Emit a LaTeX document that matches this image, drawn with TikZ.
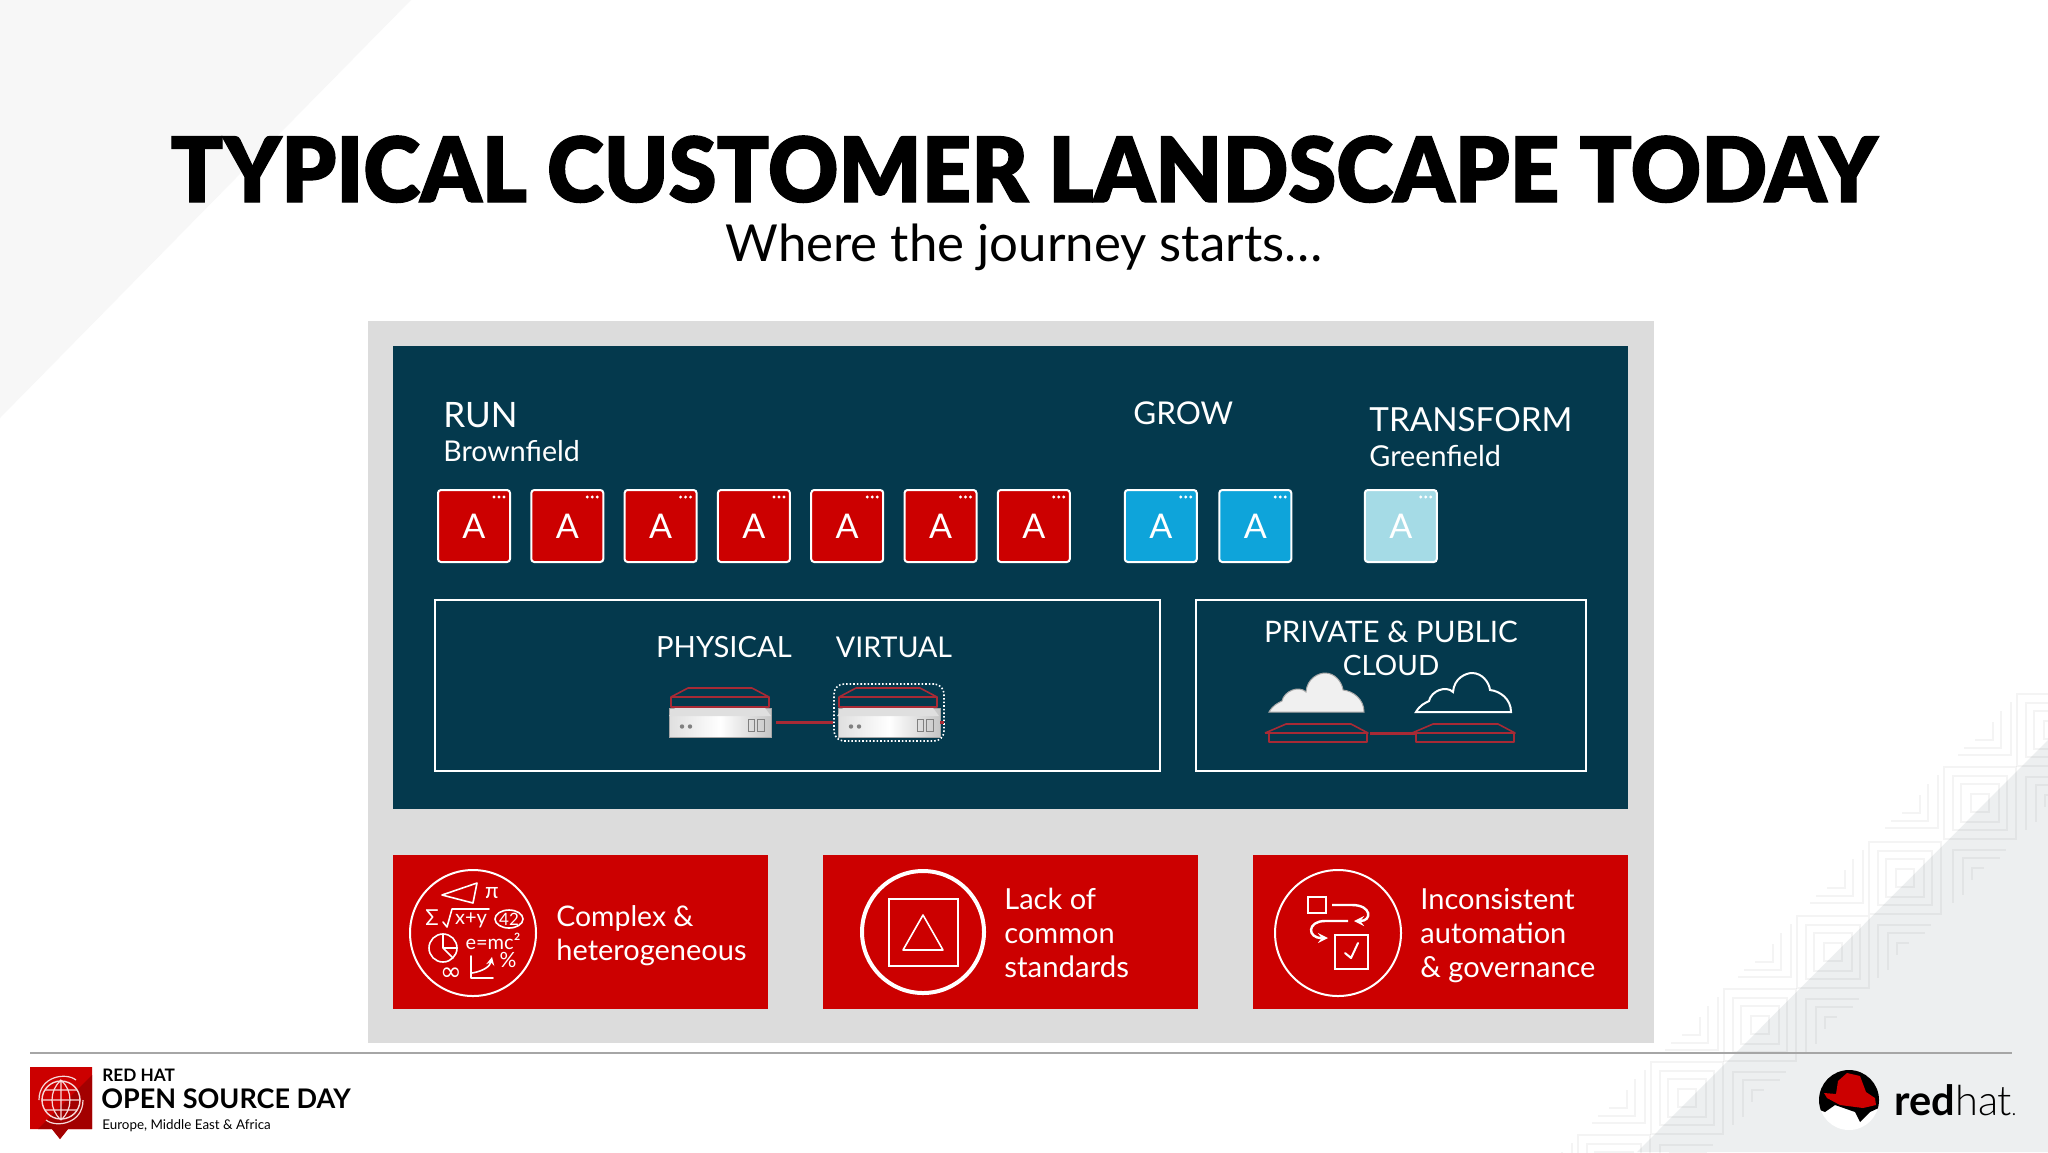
\documentclass[tikz,border=0pt]{standalone}
\usepackage{fontspec}
\usetikzlibrary{positioning,shapes.geometric}
\setmainfont{Lato}
\newfontfamily\headfont[FakeStretch=0.962,FakeBold=1.2]{Lato Black}
\newfontfamily\dejafont{DejaVu Sans}
\newfontfamily\thinfont{Lato Light}
\newcommand{\fs}[1]{\fontsize{#1}{#1}\selectfont}
\definecolor{rhred}{HTML}{CC0000}
\definecolor{panel}{HTML}{DCDCDC}
\definecolor{deep}{HTML}{04394D}
\definecolor{slabred}{HTML}{A82A35}
\definecolor{sheet}{HTML}{EDEFF0}
\definecolor{skyapp}{HTML}{0EA4DA}
\definecolor{iceapp}{HTML}{A5DBE6}
\tikzstyle{tile}=[draw=white,line width=1pt,rounded corners=1.5pt,minimum size=36pt,inner sep=0pt,outer sep=0pt,text=white,font=\fs{17},
  path picture={\fill[white] ([xshift=-3pt,yshift=-3.5pt]path picture bounding box.north east) circle (0.8pt)
    ([xshift=-5.5pt,yshift=-3.5pt]path picture bounding box.north east) circle (0.8pt)
    ([xshift=-8pt,yshift=-3.5pt]path picture bounding box.north east) circle (0.8pt);}]
\tikzstyle{redapp}=[tile,fill=rhred]
\tikzstyle{blueapp}=[tile,fill=skyapp]
\tikzstyle{paleapp}=[tile,fill=iceapp]
\tikzstyle{lbl}=[anchor=base west,inner sep=0pt,text=white]
\tikzstyle{mid}=[anchor=base,inner sep=0pt,text=white]
\tikzstyle{frame}=[draw=white,line width=1pt,inner sep=0pt,outer sep=0pt]
\tikzstyle{card}=[fill=rhred,inner sep=0pt,outer sep=0pt,minimum width=187.5pt,minimum height=77pt]
\tikzstyle{ring}=[circle,draw=white,inner sep=0pt,outer sep=0pt]
\tikzstyle{srv}=[inner sep=0pt,outer sep=0pt,minimum width=51pt,minimum height=14.5pt,left color=gray!25,right color=gray!45,middle color=white,draw=gray!70,line width=0.4pt,
  path picture={\fill[gray] ([xshift=6.5pt,yshift=-2pt]path picture bounding box.west) circle (1.1pt)
    ([xshift=10.5pt,yshift=-2pt]path picture bounding box.west) circle (1.1pt);
    \draw[gray,line width=0.5pt] ([xshift=-11.5pt,yshift=-4.5pt]path picture bounding box.east) rectangle ++(3.2pt,6pt)
    ([xshift=-6.7pt,yshift=-4.5pt]path picture bounding box.east) rectangle ++(3.2pt,6pt);}]
\tikzstyle{link}=[draw=slabred,line width=1.5pt]
\tikzstyle{slabline}=[draw=slabred,line width=0.8pt,line join=round]
\tikzstyle{thinline}=[white,line width=0.8pt,line cap=round,line join=round]
\newcommand{\slab}[2]{\draw[slabline] (#1,#2) -- ++(17,-9) -- ++(64,0) -- ++(17,9) -- ++(0,10) -- ++(-98,0) -- cycle (#1,#2) -- ++(98,0);}
\newcommand{\bevel}[2]{\fill[gray!25] (#1,#2+8) -- ++(6,-8) -- ++(90,0) -- ++(6,8) -- cycle;}
\newcommand{\flatslab}[2]{\draw[slabline] (#1-3,#2) -- ++(21,-9) -- ++(65,0) -- ++(17,9) -- ++(-1,0) -- ++(0,9) -- ++(-98,0) -- ++(0,-9) ++(-4,0) -- ++(103,0);}
\newcommand{\cloudpath}[2]{(#1,#2+39) .. controls (#1+4,#2+32) and (#1+9,#2+30) .. (#1+13,#2+28) .. controls (#1+15,#2+18) and (#1+30,#2+12) .. (#1+37,#2+19) .. controls (#1+38,#2+5) and (#1+50,#2) .. (#1+56,#2) .. controls (#1+66,#2) and (#1+73,#2+9) .. (#1+74,#2+17) .. controls (#1+84,#2+18) and (#1+95,#2+26) .. (#1+95,#2+39) -- cycle}
\begin{document}
\begin{tikzpicture}[x=0.5pt,y=-0.5pt]
    \useasboundingbox (0,0) rectangle (2048,1152);
    \fill[white] (0,0) rectangle (2048,1152);
    \fill[gray!6] (0,0) -- (411,0) -- (0,418) -- cycle;
    \fill[sheet] (2048,740) -- (2048,1152) -- (1637,1152) -- cycle;
    \foreach \cx/\cy in {2053/730,1980/803,1905/878,1833/952,1760/1025,1687/1098,1614/1171}{
      \begin{scope}[draw=black,draw opacity=.045,line width=0.8pt]
        \foreach \hs in {9,19,27,36}
          \draw (\cx-\hs,\cy-\hs) rectangle (\cx+\hs,\cy+\hs);
        \foreach \ox/\oy/\arm in {42/25/53,52/18/37,60/10/18}
          \draw (\cx-\ox,\cy+\oy-\arm) -- (\cx-\ox,\cy+\oy) -- (\cx-\ox-\arm,\cy+\oy);
        \foreach \ox/\oy/\arm in {27/47/53,17/55/37,8/65/12}
          \draw (\cx-\ox+\arm,\cy+\oy) -- (\cx-\ox,\cy+\oy) -- (\cx-\ox,\cy+\oy+\arm);
      \end{scope}
    }
    \node (title) at (1024,202) [anchor=base,inner sep=0pt,font=\headfont\fs{45}] {TYPICAL CUSTOMER LANDSCAPE TODAY};
    \node (sub) at (1024,261) [anchor=base,inner sep=0pt,font=\fs{25.5}] {Where the journey starts\dots};

    \node (panelbox) at (1011,682) [fill=panel,minimum width=643pt,minimum height=361pt,inner sep=0pt] {};
    \node (deepbox) at (1010.5,577.5) [fill=deep,minimum width=617.5pt,minimum height=231.5pt,inner sep=0pt] {};

    \node (run) at (443,427) [lbl,font=\fs{17.5}] {RUN};
    \node (brown) at (443,461) [lbl,font=\fs{14.3}] {Brownfield};
    \node (grow) at (1133,424) [lbl,font=\fs{15.7}] {GROW};
    \node (trans) at (1369,431) [lbl,font=\fs{16.6}] {TRANSFORM};
    \node (green) at (1369,466) [lbl,font=\fs{14.4}] {Greenfield};

    \node (a1) at (474,526) [redapp] {A};
    \node (a2) [right=10.65pt of a1,redapp] {A};
    \node (a3) [right=10.65pt of a2,redapp] {A};
    \node (a4) [right=10.65pt of a3,redapp] {A};
    \node (a5) [right=10.65pt of a4,redapp] {A};
    \node (a6) [right=10.65pt of a5,redapp] {A};
    \node (a7) [right=10.65pt of a6,redapp] {A};
    \node (b1) [right=27.5pt of a7,blueapp] {A};
    \node (b2) [right=11.25pt of b1,blueapp] {A};
    \node (c1) [right=36.75pt of b2,paleapp] {A};

    \node (onprem) at (797.5,685.5) [frame,minimum width=362.5pt,minimum height=85.5pt] {};
    \node (cloudbox) at (1391,685.5) [frame,minimum width=195pt,minimum height=85.5pt] {};
    \node (phys) at (724,657) [mid,font=\fs{14.6}] {PHYSICAL};
    \node (virt) at (894,657) [mid,font=\fs{14.3}] {VIRTUAL};
    \node (priv) at (1391,642) [mid,font=\fs{14.8}] {PRIVATE \&\ PUBLIC};
    \node (cld) at (1391,675) [mid,font=\fs{14}] {CLOUD};

    \node (srva) at (720,722.5) [srv] {};
    \node (srvb) [right=33.5pt of srva,srv] {};
    \bevel{669}{708}
    \bevel{837}{708}
    \slab{671}{697}
    \slab{839}{697}
    \node (dots) at (889,712.5) [draw=white,densely dotted,line width=0.8pt,rounded corners=5pt,minimum width=55pt,minimum height=28.5pt,inner sep=0pt,outer sep=0pt] {};
    \path[link]
    		(srva.east) edge[shorten <=2.5pt,shorten >=0.5pt] (dots.west |- srva.east)
    		(srvb.east) edge (dots.east |- srvb.east);

    \fill[white!88!gray,draw=gray!70,line width=0.5pt] \cloudpath{1269}{673};
    \draw[white,line width=1pt] \cloudpath{1416}{673};
    \node (slaba) at (1317,737.5) [minimum width=49pt,minimum height=4.5pt,inner sep=0pt,outer sep=0pt] {};
    \node (slabb) at (1464,737.5) [minimum width=49pt,minimum height=4.5pt,inner sep=0pt,outer sep=0pt] {};
    \flatslab{1268}{733}
    \flatslab{1415}{733}
    \path[link] (slaba.north east) edge[shorten <=2pt] (slabb.north west);

    \node (card1) at (580.5,932) [card] {};
    \node (card2) at (1010.5,932) [card] {};
    \node (card3) at (1440.5,932) [card] {};

    \node (compl) at (556,926) [lbl,font=\fs{14.2}] {Complex \&};
    \node (heter) at (556,960) [lbl,font=\fs{14.5}] {heterogeneous};
    \node (lack) at (1004,909) [lbl,font=\fs{14.5}] {Lack of};
    \node (comm) at (1004,943) [lbl,font=\fs{14.5}] {common};
    \node (stand) at (1004,977) [lbl,font=\fs{14.7}] {standards};
    \node (incon) at (1420,909) [lbl,font=\fs{14.5}] {Inconsistent};
    \node (autom) at (1420,943) [lbl,font=\fs{14.5}] {automation};
    \node (gover) at (1420,977) [lbl,font=\fs{14.5}] {\&\ governance};

    \node (ring1) at (473,933) [ring,line width=1pt,minimum size=63pt] {};
    \draw[thinline] (442,895) -- (477,883) -- (473,903) -- cycle;
    \node (pi) at (492,893) [text=white,inner sep=0pt,font=\fs{11}] {π};
    \node (sigma) at (432,918) [text=white,inner sep=0pt,font=\fs{11}] {Σ};
    \draw[thinline] (443,922) -- (447,927) -- (452,909) -- (489,909);
    \node (xy) at (471,920) [text=white,inner sep=0pt,font=\fs{10}] {x+y};
    \node (oval) at (509,919) [draw=white,ellipse,line width=0.8pt,minimum width=14pt,minimum height=9pt,inner sep=0pt,text=white,font=\fs{8.5}] {42};
    \node (pie) at (443,948) [ring,line width=0.8pt,minimum size=14pt] {};
    \draw[thinline] (pie.north) -- (pie.center) -- (pie.south east) (pie.center) -- (pie.east);
    \node (emc) at (493,941) [text=white,inner sep=0pt,font=\fs{10}] {e=mc²};
    \node (pct) at (508,960) [text=white,inner sep=0pt,font=\fs{10.5}] {\%};
    \node (inf) at (451,974) [text=white,inner sep=0pt,font=\dejafont\fs{13}] {∞};
    \draw[thinline] (471,956) -- (471,978) -- (493,978);
    \draw[thinline,-stealth] (472,973) .. controls (484,971) and (490,966) .. (492,957);

    \node (ring2) at (923,932) [ring,line width=2pt,minimum size=61pt] {};
    \node (sq) at (923.5,932.5) [frame,minimum width=34.5pt,minimum height=33.5pt] {};
    \draw[thinline] (923,915) -- (943,950) -- (903,950) -- cycle;

    \node (ring3) at (1338,933) [ring,line width=1pt,minimum size=63pt] {};
    \node (stepa) at (1317,905) [frame,minimum width=9pt,minimum height=8pt] {};
    \node (stepb) at (1351.5,952) [frame,minimum width=16.5pt,minimum height=17pt] {};
    \draw[white,line width=1.2pt,-stealth] (1332,905) -- (1352,905) .. controls (1372,905) and (1372,921) .. (1354,921);
    \draw[white,line width=1.2pt,-stealth] (1348,921) -- (1325,921) .. controls (1307,921) and (1307,938) .. (1328,938);
    \draw[thinline,line width=1pt] (1345,953) -- (1351,958) -- (1358,943);

    \node (rule) at (1021,1053) [minimum width=991pt,minimum height=0.8pt,inner sep=0pt,fill=gray!70] {};

    \fill[rhred] (30,1067) -- (92,1067) -- (92,1129) -- (68,1129) -- (60,1139) -- (52,1129) -- (30,1129) -- cycle;
    \fill[rhred!80!black] (92,1075) -- (92,1129) -- (68,1129) -- (60,1139) -- (52,1129) -- (38,1129) -- cycle;
    \node (globe) at (61,1100) [circle,draw=white!85!rhred,line width=0.7pt,minimum size=19pt,inner sep=0pt] {};
    \draw[white!85!rhred,line width=0.6pt] (globe.north) .. controls (49,1090) and (49,1110) .. (globe.south) .. controls (73,1110) and (73,1090) .. (globe.north) -- (globe.south) (globe.west) -- (globe.east) (45,1090) -- (77,1090) (45,1110) -- (77,1110);
    \draw[white!85!rhred,line width=0.6pt] (39,1100) .. controls (39,1076) and (66,1072) .. (76,1080) (83,1100) .. controls (83,1124) and (56,1128) .. (46,1120);
    \node (rh) at (102,1081) [anchor=base west,inner sep=0pt,font=\bfseries\fs{8.6}] {RED HAT};
    \node (osd) at (101,1108) [anchor=base west,inner sep=0pt,font=\bfseries\fs{13.5}] {OPEN SOURCE DAY};
    \node (emea) at (102,1129) [anchor=base west,inner sep=0pt,font=\fs{6.7}] {Europe, Middle East \&\ Africa};

    \node (hatdisc) at (1849,1100) [circle,fill=white,minimum size=30pt,inner sep=0pt] {};
    \begin{scope}
      \clip (1849,1100) circle (30);
      \fill[black] (1815,1065) -- (1885,1065) -- (1885,1105) -- (1870,1112) -- (1860,1122) -- (1855,1112) -- (1835,1105) -- (1825,1112) -- (1815,1108) -- cycle;
      \fill[rhred] (1824,1093) -- (1836,1094) -- (1838,1081) -- (1847,1073) -- (1860,1076) -- (1866,1092) -- (1875,1098) -- (1876,1105) -- (1863,1108) -- (1840,1105) -- (1827,1098) -- cycle;
    \end{scope}
    \node (wordmark) at (1894,1115) [anchor=base west,inner sep=0pt,font=\fs{20.8}] {\textbf{red}{\thinfont hat}{\fs{8}.}};
\end{tikzpicture}
\end{document}
